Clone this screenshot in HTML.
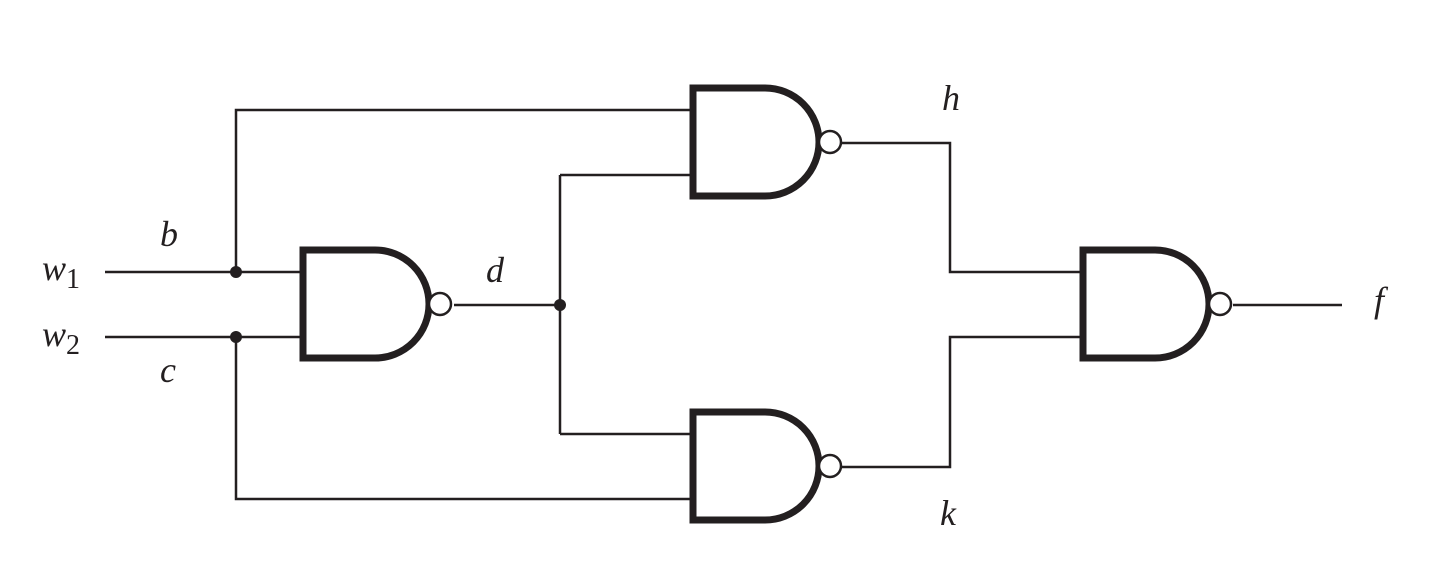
<!DOCTYPE html>
<html><head><meta charset="utf-8"><style>
html,body{margin:0;padding:0;background:#fff;}
svg{display:block;}
text{font-family:"Liberation Serif",serif;font-style:italic;font-size:36px;fill:#231f20;}
.s{font-style:normal;font-size:28px;}
</style></head><body>
<svg width="1444" height="561" viewBox="0 0 1444 561" xmlns="http://www.w3.org/2000/svg">
<defs>
<g id="gate">
<path d="M3,-54 L75,-54 A54,54 0 0 1 75,54 L3,54 Z" fill="none" stroke="#231f20" stroke-width="7" stroke-linejoin="miter"/>
<circle cx="140" cy="0" r="11" fill="#fff" stroke="#231f20" stroke-width="2.5"/>
</g>
</defs>
<g stroke="#231f20" stroke-width="2.5" fill="none">
<path d="M105,272 H300 M105,337 H300"/>
<path d="M236,272 V110 H690 M236,337 V499 H690"/>
<path d="M454,305 H560 M560,175 V434 M560,175 H690 M560,434 H690"/>
<path d="M842,143 H950 V272 H1080 M842,467 H950 V337 H1080"/>
<path d="M1233,305 H1342"/>
</g>
<g fill="#231f20">
<circle cx="236" cy="272" r="6"/><circle cx="236" cy="337" r="6"/><circle cx="560" cy="305" r="6"/>
</g>
<use href="#gate" x="300" y="304"/>
<use href="#gate" x="690" y="142"/>
<use href="#gate" x="690" y="466"/>
<use href="#gate" x="1080" y="304"/>
<text x="42" y="280">w<tspan class="s" dy="8">1</tspan></text>
<text x="42" y="346">w<tspan class="s" dy="8">2</tspan></text>
<text x="160" y="246">b</text>
<text x="160" y="382">c</text>
<text x="486" y="282">d</text>
<text x="942" y="110">h</text>
<text x="940" y="525">k</text>
<text x="1374" y="312">f</text>
</svg>
</body></html>
